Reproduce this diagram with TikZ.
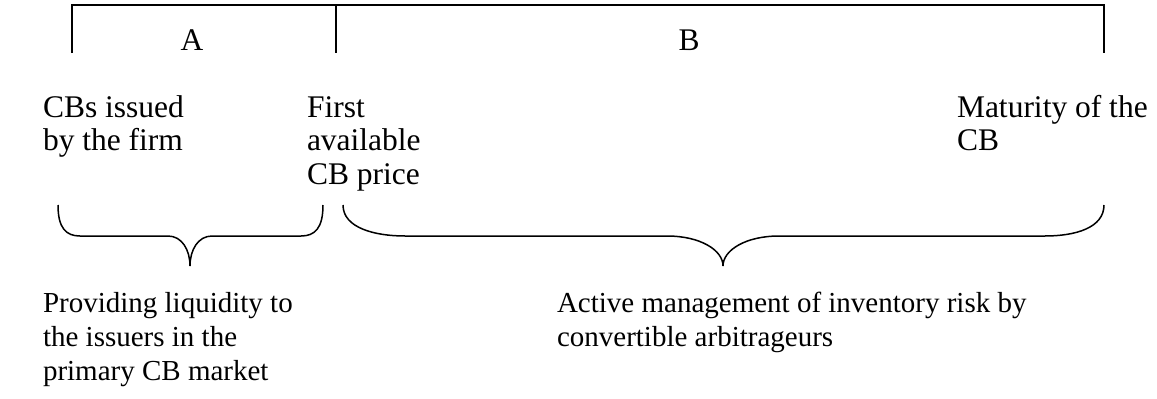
\documentclass[tikz,border=0pt]{standalone}
\usepackage{fontspec}
\setmainfont{Liberation Serif}
\begin{document}
\begin{tikzpicture}[x=1pt,y=-1pt,
  lbl/.style={inner sep=0pt,outer sep=0pt,align=left,anchor=base west,
    font=\fontsize{31.5}{33.5}\selectfont},
  lblb/.style={lbl,font=\fontsize{29}{34}\selectfont},
  ln/.style={line width=1.6pt},
  brc/.style={line width=1.5pt}]
\useasboundingbox (0,0) rectangle (1157,399);
% timeline bracket
\coordinate (tl) at (72,5);
\coordinate (tm) at (336,5);
\coordinate (tr) at (1104,5);
\coordinate (bl) at (72,53);
\coordinate (bm) at (336,53);
\coordinate (br) at (1104,53);
\draw[ln] (bl) -- (tl) -- (tr) -- (br);
\draw[ln] (tm) -- (bm);
\node[lbl,anchor=base] (A) at (192,50) {A};
\node[lbl,anchor=base] (B) at (689,50) {B};
% labels (anchor = baseline of last line)
\node[lbl] (issued) at (43,150.5) {CBs issued\\by the firm};
\node[lbl] (first) at (307,184) {First\\available\\CB price};
\node[lbl] (mat) at (957,150.5) {Maturity of the\\CB};
% braces
\draw[brc] (58,205) .. controls (58,228) and (66,236) .. (80,236) -- (168,236)
  .. controls (182,236) and (190,250) .. (190,266)
  .. controls (190,250) and (198,236) .. (212,236) -- (301,236)
  .. controls (315,236) and (323,228) .. (323,205);
\draw[brc] (343,205) .. controls (343,228) and (375,236) .. (405,236) -- (667,236)
  .. controls (700,236) and (723,250) .. (723,266)
  .. controls (723,250) and (746,236) .. (779,236) -- (1045,236)
  .. controls (1075,236) and (1104,228) .. (1104,205);
\node[lblb] (prov) at (43,380) {Providing liquidity to\\the issuers in the\\primary CB market};
\node[lblb] (act) at (557,346) {Active management of inventory risk by\\convertible arbitrageurs};
\end{tikzpicture}
\end{document}
